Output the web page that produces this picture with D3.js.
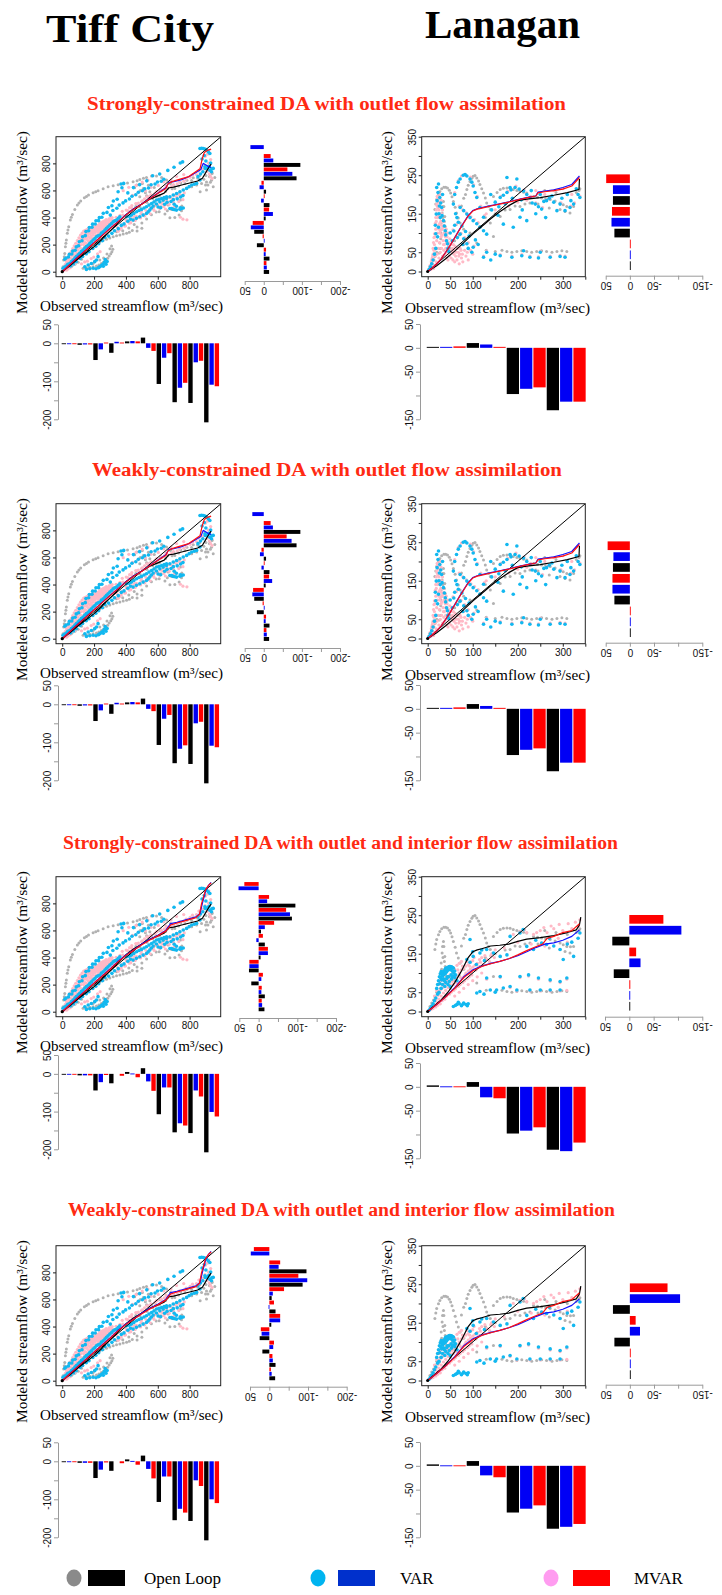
<!DOCTYPE html>
<html><head><meta charset="utf-8">
<script src="https://cdn.jsdelivr.net/npm/d3@7/dist/d3.min.js"></script>
<style>
html,body{margin:0;padding:0;background:#fff;}
svg{display:block;}
</style></head><body>
<script>
// ---------------- text ----------------
const siteNames = ["Tiff City", "Lanagan"];
const panelTitles = [
  "Strongly-constrained DA with outlet flow assimilation",
  "Weakly-constrained DA with outlet flow assimilation",
  "Strongly-constrained DA with outlet and interior flow assimilation",
  "Weakly-constrained DA with outlet and interior flow assimilation"
];
const seriesNames = ["Open Loop", "VAR", "MVAR"];
const xAxisTitle = "Observed streamflow (m\u00B3/sec)";
const yAxisTitle = "Modeled streamflow (m\u00B3/sec)";

// ---------------- axis ticks ----------------
const tiffTicks = [0, 200, 400, 600, 800];
const tiffTickLabels = ["0", "200", "400", "600", "800"];
const lanXTicks = [0, 50, 100, 150, 200, 250, 300, 350];
const lanXTickLabels = ["0", "50", "100", "", "200", "", "300", ""];
const lanYTicks = [0, 50, 100, 150, 200, 250, 300, 350];
const lanYTickLabels = ["0", "50", "", "150", "", "250", "", "350"];
const tiffBarTicks = [50, 0, -50, -100, -150, -200];
const tiffBarTickLabels = ["50", "0", "", "-100", "", "-200"];
const lanBarTicks = [50, 0, -50, -100, -150];
const lanBarTickLabels = ["50", "0", "-50", "", "-150"];

// ---------------- Tiff City scatter: [observed, modeled] ----------------
const tiffOLPts = [
  [5,37],[9,86],[13,110],[16,135],[20,185],[23,210],[26,234],[32,283],[36,308],[41,332],[51,381],[57,402],[64,423],[79,460],[95,492],[105,508],[116,522],[139,546],[152,556],[165,566],[194,583],[210,591],[225,598],[257,613],[288,627],[320,635],[351,642],[383,647],
  [410,655],[445,664],[470,672],[487,681],[510,690],[529,696],[561,706],[592,706],[624,696],[655,677],[680,652],[707,615],[728,573],[743,529],[751,485],[749,450],[734,418],[707,401],[676,399],
  [509,615],[550,590],[592,558],[634,524],[665,492],[687,460],[487,553],[529,517],[571,475],[609,443],[645,426],
  [468,641],[503,652],[541,638],[578,622],[617,597],[561,561],[603,532],[522,583],[455,620],[490,600],[530,560],[580,520],[620,480],[660,450],
  [781,615],[813,627],[844,640],[875,652],[906,662],[937,676],[958,696],[866,590],[906,603],[948,627],[900,641],[925,702],[940,731],[930,660],[915,640],
  [215,209],[236,221],[257,230],[278,239],[299,249],[320,258],[341,265],[362,271],[383,278],[404,283],[341,295],[380,302],[418,322],[452,348],[421,291],[440,305],[470,330],[500,360],[530,390],[560,420],[590,440],[470,300],[500,320],
  [131,25],[152,28],[173,32],[194,36],[215,42],[230,50],[246,61],[260,72],[274,86],[285,100],[295,116],[305,132],[312,148],[318,165],[236,86],[194,61],[260,101],[281,131],[300,170],[310,190],
  [5,12],[15,18],[26,25],[40,30],[60,41],[80,55],[100,70],[121,92],
  [423,442],[451,438],[462,481],[488,478],[503,521],[531,512],[544,551],[568,540],[582,573],[611,562],[621,597],[649,593],[663,616],[690,612],[702,637],[731,633],[744,655],[771,652],[783,676],[812,673],[823,694],[851,690],[863,708],[889,683],[902,710],[928,705],[941,726]
];
const tiffVarPts = [
  [5,25],[15,35],[26,42],[35,55],[47,61],[58,75],[68,86],[80,100],[89,111],[100,125],[110,135],[120,150],[131,160],[142,175],[152,185],[163,195],[173,209],[184,220],[194,234],[205,245],[215,258],[225,265],[236,271],[246,285],[257,295],[268,308],[278,320],[288,332],[299,344],[310,356],[320,369],[330,375],[341,381],[352,395],[362,406],
  [16,92],[24,101],[39,108],[45,129],[60,131],[66,152],[81,158],[88,183],[103,192],[107,221],[124,229],[128,258],[145,266],[149,296],[166,302],[170,326],[187,328],[191,351],[207,352],[212,376],[228,377],[233,399],[249,402],[258,431],[281,438],[290,474],[312,487],[321,522],[345,535],[351,590],[375,620],[369,648],[386,652],
  [142,37],[152,17],[163,49],[173,22],[183,61],[194,25],[204,74],[215,86],[225,111],[236,37],[246,45],[255,55],[265,70],[270,90],[212,22],[228,30],[258,40],[275,55],[282,75],
  [404,406],[420,410],[435,418],[450,430],[467,443],[482,452],[498,460],[514,470],[529,480],[545,492],[561,504],[576,515],[592,529],[608,535],[624,541],[640,548],[655,554],[676,467],[687,467],[697,460],[708,457],[718,455],[739,462],[749,467],[760,470],
  [445,381],[466,394],[487,406],[508,418],[529,430],[540,442],[550,455],[560,470],[571,485],[592,500],[613,517],[634,530],[655,541],[676,554],[697,566],[718,578],[739,590],[760,603],[781,615],[797,628],[813,640],[829,646],[844,652],[865,677],
  [412,582],[447,621],[486,643],[531,671],[568,709],[612,722],[663,748],[702,771],[741,803],[756,811],
  [865,910],[876,912],[886,910],[896,905],[906,898],[917,885],[927,873],[896,775],[910,765],[927,750],[937,738],[948,763],[940,760],
  [52,42],[71,57],[88,73],[112,97],[128,113],[151,132],[168,148],[192,171],[211,188],[229,207],[252,228],[268,252],[291,263],[312,283],[328,302],[352,318],[371,342],[388,353],[412,372],[428,387],
  [302,418],[318,452],[343,468],[358,492],[382,508],[398,523],[422,537],[438,557],[462,568],[478,587],[503,598],[518,612],[542,618],[558,642],[583,648],[598,662],[622,668],[638,683],
  [602,478],[618,472],[643,498],[658,512],[683,518],[698,532],[722,538],[743,552],[758,562],[703,498],[717,483],[742,472],
  [852,702],[868,722],[883,738],[898,762],[921,778],[932,802],[902,818],[878,832],[892,858]
];
const tiffMvarPts = [
  [3,5],[8,20],[10,8],[14,35],[18,15],[20,55],[24,30],[26,75],[30,45],[32,95],[36,20],[38,60],[40,115],[44,80],[46,40],[48,135],[52,100],[55,60],[58,150],[60,120],[64,80],[66,170],[70,140],[72,100],[75,190],[78,160],[80,60],[82,120],[85,210],[88,180],[90,140],[92,90],[95,230],[98,200],[100,160],[102,110],[105,250],[108,220],[110,180],[112,130],[115,270],[118,240],[120,200],[122,150],[125,285],[128,255],[130,220],[132,170],[135,300],[138,270],[140,240],[142,190],[145,305],[148,285],[150,260],[152,210],[155,310],[158,295],[160,275],[162,230],[165,320],[168,300],[170,290],[172,250],[175,325],[178,310],[180,300],[182,265],[185,330],[188,315],[190,300],[192,280],[195,335],[198,320],[200,310],[202,290],[205,250],[210,330],[212,300],[215,270],[220,340],[222,315],[225,290],[230,345],[232,320],[235,300],[240,350],[242,330],[245,310],[250,355],[252,335],[255,320],[260,360],[262,340],[265,325],[270,365],[272,345],[275,330],[280,370],[285,350],[290,340],[295,375],[300,355],[305,345],[310,380],[315,365],[320,355],[210,230],[190,240],[170,200],[150,180],[230,260],[250,280],[270,300],[290,310],
  [12,25],[22,40],[28,12],[34,70],[42,95],[50,30],[56,130],[62,55],[68,155],[74,120],[84,95],[86,160],[94,180],[104,140],[106,200],[114,175],[124,230],[126,110],[134,250],[136,200],[144,215],[146,275],[154,240],[156,290],[164,260],[166,280],[174,280],[176,230],[184,290],[186,250],[194,305],[196,270],[204,320],[206,290],[214,320],[216,345],[224,335],[226,310],[234,330],[236,355],[244,345],[246,365],[254,350],[256,370],[264,355],[266,375],[274,365],[276,385],[284,375],[286,360],[294,390],[296,365],[304,395],[306,370],[314,400],[316,380],
  [338,402],[363,417],[377,446],[402,455],[423,473],[437,488],[462,503],[478,507],[503,523],[517,538],[544,553],[558,562],[583,578],[597,592],[623,598],[641,612],[657,623],[684,628],[698,643],[722,648],[737,663],[763,668],[778,684],[803,697],[818,713],[843,718],[858,743],[882,757],[897,783],[918,802],[932,828],[898,853],[912,868],[921,893],
  [402,382],[453,407],[497,443],[553,468],[598,492],[652,497],[703,478],[742,402],[758,388],[783,383],[648,463],[683,468],
  [418,623],[463,637],[502,662],[538,677],[383,598],[442,563],[477,583],[523,597],[558,623],[603,637],[638,663],[683,677],[718,703],[763,717],
  [932,702],[941,688],[924,722],[909,741],
  [331,302],[346,328],[361,312],[374,348],[392,337],[404,372],[421,358],[436,392],[449,381],[466,408],[481,402],[494,428],[511,421],[526,452],[539,443],[556,472],[571,463],[584,488],[601,487],[616,508],[629,503],[646,532],[661,518],[674,547],[691,538],[706,562],[719,553],[736,572],[751,563],[766,582],
  [352,298],[371,322],[398,338],[431,362],[458,378],[492,397],[518,412],[552,428],[578,452],[612,468],[638,482],[672,498],[698,512],[732,518],[758,532],
  [381,418],[412,452],[438,468],[472,502],[498,518],[532,552],[558,568],[592,592],[618,608],[652,632],
  [121,58],[141,72],[158,78],[182,97],[198,108],[222,132],[238,148]
];

// ---------------- Tiff City curves ----------------
const tiffOLLine = [[0,0],[50,45],[100,95],[150,140],[200,185],[250,240],[300,300],[350,360],[400,420],[450,465],[500,500],[550,535],[600,560],[640,580],[670,620],[700,625],[750,640],[800,655],[850,670],[880,690],[900,730],[920,770],[935,795]];
const tiffVarLineA = [[0,0],[100,110],[200,215],[300,320],[350,370],[400,420],[450,465],[500,500],[550,540],[600,580],[650,620],[670,660],[700,665],[750,680],[800,705],[850,740],[870,755],[885,800],[900,790],[920,775],[935,770]];
const tiffMvarLineA = [[0,0],[100,108],[200,212],[300,318],[350,368],[400,418],[450,462],[500,498],[550,538],[600,578],[650,615],[665,650],[690,665],[730,680],[790,700],[840,740],[865,760],[878,830],[892,880],[915,898],[935,905]];
const tiffVarLineB = [[0,0],[100,108],[200,212],[300,315],[350,372],[400,418],[450,458],[500,500],[550,535],[600,565],[650,600],[680,650],[720,660],[780,680],[840,700],[865,725],[880,800],[893,860],[905,910],[920,935],[935,955]];
const tiffMvarLineB = [[0,0],[100,106],[200,210],[300,312],[350,368],[400,415],[450,455],[500,495],[550,530],[600,560],[650,595],[680,640],[720,655],[780,675],[840,695],[862,720],[875,800],[888,850],[900,900],[920,935],[935,950]];

// ---------------- Lanagan scatter ----------------
const lanOLPts = [
  [5,13],[9,22],[13,30],[16,39],[20,50],[16,161],[18,175],[20,187],[24,199],[27,208],[31,215],[36,219],[40,219],[44,217],[48,211],[51,204],[54,194],[57,182],[61,167],[64,152],[68,139],[72,126],
  [26,48],[27,74],[29,100],[30,126],[32,152],[33,169],[35,182],[36,169],[38,143],[39,117],[41,91],[28,60],[34,140],[31,110],[29,85],[37,130],[40,104],
  [84,200],[87,213],[90,224],[94,234],[98,242],[101,247],[105,249],[109,243],[113,235],[116,226],[120,215],[124,204],[128,191],[131,178],[135,169],[139,161],[80,190],[75,170],
  [146,195],[154,205],[161,213],[168,216],[176,217],[183,216],[190,213],[198,210],[205,208],[213,206],[220,204],
  [235,195],[244,193],[253,191],[262,189],[272,187],[283,183],[294,178],[301,173],[309,169],[317,168],[324,169],[294,161],[305,156],[316,152],[260,210],[285,205],[310,200],[330,205],[245,175],[270,165],[336,210],[338,215],
  [176,52],[187,50],[198,52],[209,54],[220,52],[231,50],[242,52],[253,54],[264,52],[276,50],[287,52],[298,54],[309,52],[130,55],[150,52],[165,55],
  [94,100],[116,117],[139,126],[161,143],[183,161],[205,169],[227,178],[109,74],[146,91],[60,80],[70,95],[80,110],[50,60],[128,140],[150,150],[172,160],[194,170],[216,175]
];
const lanVarPtsA = [
  [3,5],[6,12],[9,20],[12,30],[15,45],[18,60],[20,218],[21,184],[19,149],[24,227],[24,115],[27,192],[31,166],[35,132],[39,106],[42,80],[45,60],[22,90],[28,140],[33,200],[26,170],
  [17,120],[18,98],[23,205],[25,150],[29,178],[32,145],[37,118],[40,95],[44,72],[47,52],
  [57,175],[64,218],[72,240],[79,250],[87,248],[94,240],[101,222],[109,192],[116,166],[124,141],[60,200],[68,232],[83,252],[98,232],[105,205],
  [72,166],[80,158],[87,149],[94,140],[101,132],[109,124],[116,115],[124,106],[131,97],[72,97],[80,85],[87,72],[98,50],[101,63],[60,120],[65,140],[50,100],[55,80],
  [62,150],[68,128],[76,118],[84,104],[92,92],[106,82],[112,70],[58,105],[66,88],[78,70],[90,60],
  [161,192],[168,198],[176,205],[185,212],[194,218],[203,214],[213,209],[220,200],[227,192],[239,175],[246,168],[253,162],[264,184],[280,180],[294,175],[305,158],[316,166],[324,175],[338,192],[190,115],[205,141],[220,132],[168,123],[287,158],[176,244],[198,240],[183,218],[150,180],[140,200],[230,210],[250,200],[270,190],[310,200],[330,215],
  [158,168],[172,176],[188,190],[208,186],[232,178],[258,182],[276,196],[298,190],[318,184],[334,200],[142,160],[156,146],[210,160],[240,150],[262,140],
  [124,37],[131,50],[161,41],[187,37],[209,41],[213,54],[227,37],[246,35],[250,50],[272,37],[294,39],[305,37],[150,45],[140,30]
];
const lanMvarPtsA = [
  [2,3],[4,8],[5,15],[7,5],[8,25],[9,12],[10,35],[11,20],[12,45],[13,8],[14,55],[14,30],[15,70],[16,15],[16,90],[17,40],[18,110],[18,60],[19,130],[19,25],[20,150],[20,80],[21,170],[21,45],[22,190],[22,100],[23,205],[23,60],[24,120],[24,180],[25,35],[25,160],[26,140],[26,75],[27,200],[27,100],[28,50],[28,170],[29,130],[30,90],[30,185],[31,60],[31,150],[32,110],[33,40],[33,160],[34,80],[35,130],[36,55],[36,100],[37,70],[38,45],[39,90],[40,60],[42,35],[42,75],[44,50],[45,30],[46,65],[48,40],[50,55],[52,35],[54,50],[56,30],[58,45],[60,25],[62,40],[65,30],[68,50],[70,20],[72,60],[75,35],[78,25],[80,70],[85,40],[90,30],[95,55],[100,45],
  [15,98],[17,125],[18,140],[19,160],[20,175],[21,195],[22,140],[23,165],[24,145],[25,110],[26,190],[27,125],[28,105],[29,150],[30,120],[31,95],[32,130],[34,115],[35,70],[36,120],[38,95],[40,80],[41,110],[43,90],[45,100],[47,75],[49,85],[51,70],[53,80],[55,60],[57,70],[59,55],[61,65],[63,50],[66,60],[69,40],[71,45],[74,55],[77,45],[82,55],[88,50],[12,60],[11,40],[9,30],[13,75],[14,88],
  [60,205],[68,236],[75,248],[85,250],[95,245],[102,225],[110,195],[118,170],[126,145],[162,195],[178,208],[196,222],[214,212],[229,195],[240,178],[255,166],[266,188],[296,178],[318,170],[326,178],[338,196],[124,40],[131,53],[161,44],[187,40],[209,44],[227,40],[246,38],[250,53],[272,40],[294,42],[305,40],[200,180],[220,185],[180,170],[150,160],[130,150],[280,210],[300,215],[320,200],[240,210],[260,200],
  [70,170],[78,160],[86,152],[96,142],[104,135],[112,127],[74,99],[82,88],[90,75],[103,66],[64,122],[56,108]
];
const lanVarPtsB = [
  [3,3],[6,8],[9,14],[12,20],[15,28],[18,35],[20,60],[22,70],[24,80],[26,90],[28,98],[30,104],[32,95],[34,100],[35,104],[38,108],[40,112],[42,113],[45,115],[48,117],[50,117],[53,116],[55,114],[57,113],[60,105],[62,95],[35,85],[40,75],[45,70],[50,65],[25,50],[30,60],[22,45],[44,90],[55,90],[65,80],
  [27,72],[29,88],[31,82],[33,92],[36,96],[39,98],[41,102],[43,105],[46,108],[49,110],[51,109],[54,106],[56,104],[58,100],[37,80],[42,85],[47,90],[52,95],[57,92],[60,88],[33,70],[38,65],[48,78],[53,84],
  [57,13],[65,18],[70,20],[75,15],[80,22],[85,18],[90,20],[94,187],[62,16],[68,24],[78,19],[88,15],
  [87,135],[101,143],[116,152],[131,161],[146,152],[161,143],[176,147],[100,155],[120,160],[94,128],[108,122],[126,132],
  [183,195],[205,204],[212,213],[220,169],[235,161],[253,178],[264,174],[294,161],[301,135],[324,143],[338,204],[280,170],[310,175],[240,185],[270,190],[320,180],[334,190],
  [131,87],[161,91],[183,65],[205,91],[224,95],[246,87],[272,82],[294,78],[309,87],[139,56],[153,56],[168,61],[198,56],[227,56],[250,56],[272,56],[294,56],[109,48],[116,52],[125,45],[150,50]
];
const lanMvarPtsB = [
  [2,2],[5,5],[8,6],[10,12],[12,8],[15,18],[18,12],[20,25],[22,16],[25,32],[28,20],[30,40],[32,28],[35,48],[38,32],[40,55],[42,40],[45,62],[48,45],[50,70],[52,50],[55,78],[58,55],[60,85],[62,60],[65,92],[68,65],[70,100],[72,70],[75,108],[78,75],[80,112],[82,80],[85,118],[88,85],[90,122],[92,90],[95,128],[98,95],[100,132],[15,40],[20,55],[25,70],[30,80],[35,95],[40,100],[45,85],[50,95],[55,100],[60,110],[65,120],[70,125],[75,130],[80,90],[85,100],[90,105],[95,110],[100,115],[105,120],[110,125],[115,135],[120,140],[60,40],[70,50],[80,60],[90,70],[100,80],[110,90],[120,100],
  [12,18],[17,30],[23,42],[27,55],[33,62],[37,72],[43,78],[47,92],[53,88],[57,70],[63,75],[67,108],[73,88],[77,118],[83,95],[87,130],[93,118],[97,102],[103,140],[107,108],[113,115],[117,128],[123,122],[127,145],[132,135],[137,130],[142,150],[148,140],
  [131,84],[161,88],[183,62],[205,88],[224,92],[246,84],[272,79],[294,75],[309,84],[198,53],[227,53],[250,53],[272,53],[294,53],[309,55],[190,200],[205,208],[220,205],[235,200],[250,210],[265,205],[280,215],[300,210],[320,215],[335,220],[200,180],[230,175],[260,170],[290,190],[310,180],[150,160],[170,165],[140,145],
  [215,212],[242,205],[258,218],[274,222],[292,226],[312,228],[328,232],[338,238]
];

// ---------------- Lanagan curves ----------------
const lanOLLineA = [[0,0],[20,15],[40,33],[60,53],[80,75],[100,97],[120,117],[140,137],[160,155],[180,171],[200,184],[220,188],[250,192],[280,198],[310,205],[336,213],[337,240]];
const lanVarLineA = [[0,0],[10,9],[20,20],[30,33],[40,50],[50,68],[60,88],[70,108],[80,127],[90,145],[100,158],[110,163],[125,167],[140,171],[160,176],[180,181],[200,187],[220,192],[240,196],[245,206],[260,209],[280,212],[300,218],[320,226],[337,248]];
const lanMvarLineA = [[0,0],[10,9],[20,20],[30,33],[40,50],[50,68],[60,87],[70,107],[80,126],[90,144],[100,157],[110,162],[125,166],[140,170],[160,175],[180,180],[200,186],[220,191],[240,196],[245,204],[260,207],[280,210],[300,214],[320,222],[337,244]];
const lanOLLineB = [[0,0],[15,15],[30,30],[45,50],[60,75],[75,105],[90,140],[100,155],[110,160],[120,163],[140,170],[160,172],[180,175],[200,182],[220,188],[250,192],[280,197],[310,205],[330,212],[337,225],[340,245]];
const lanVarLineB = [[0,0],[20,18],[40,38],[60,62],[80,90],[100,108],[120,118],[140,125],[160,130],[180,137],[200,145],[220,155],[240,166],[260,175],[280,178],[300,185],[320,195],[337,212]];
const lanMvarLineB = [[0,0],[20,18],[40,38],[60,60],[80,88],[100,106],[120,117],[140,124],[160,130],[180,137],[200,147],[220,158],[240,168],[255,175],[265,190],[280,195],[300,205],[320,210],[337,228]];

// ---------------- bias bars (order: Open Loop, VAR, MVAR repeated) ----------------
const tiffSideP1 = [-14,-8,-7,-15,-5,-6,18,-2,3,25,34,29,-5,-24,-14,-15,7,-2,-6,11,6,-86,-75,-62,-96,-25,-18,0,35,0];
const tiffSideP2 = [-14,-8,-7,-15,-5,-6,18,-2,3,25,30,28,-5,-22,-14,-15,6,-2,-6,10,6,-86,-73,-60,-96,-24,-18,0,30,0];
const tiffSideP3 = [-15,-9,-8,-16,-7,-8,19,-7,-11,25,24,24,-5,-24,-24,-16,6,-11,-6,-16,-40,-86,-81,-71,-95,-22,-27,0,52,37];
const tiffSideP4 = [-15,-6,-4,-16,-9,-8,18,-10,-12,25,20,22,-5,-28,-28,-16,2,-12,-6,-9,-38,-86,-98,-75,-96,-24,-28,0,48,40];
const tiffBottomP1 = [-2,-2,-2,-4,-3,-3,-44,-16,2,-25,4,2,5,6,5,15,-12,-20,-107,-38,-26,-155,-117,-104,-157,-50,-46,-208,-109,-113];
const tiffBottomP2 = [-2,-2,-2,-4,-3,-3,-44,-16,2,-25,4,2,5,6,5,15,-12,-18,-107,-38,-28,-155,-117,-108,-157,-50,-46,-208,-109,-113];
const tiffBottomP3 = [-2,-2,-2,-4,-4,-4,-44,-22,-3,-25,0,-5,5,1,-9,15,-20,-45,-107,-36,-36,-155,-131,-137,-157,-44,-60,-208,-101,-113];
const tiffBottomP4 = [-2,-2,-2,-4,-4,-4,-44,-22,-3,-25,0,-5,5,1,-9,15,-20,-45,-107,-40,-40,-155,-125,-135,-157,-50,-65,-208,-100,-110];
const lanSideP1 = [-1,-1,-1,32,38,37,35,35,49];
const lanSideP2 = [-1,-1,-1,32,36,36,35,34,46];
const lanSideP3 = [-1,-1,-2,32,-23,-14,35,-107,-70];
const lanSideP4 = [-1,-1,-1,32,-21,-12,35,-104,-78];
const lanBottomP1 = [2,2,3,10,7,2,-97,-86,-83,-131,-113,-113];
const lanBottomP2 = [2,2,3,10,6,2,-97,-86,-83,-131,-113,-113];
const lanBottomP3 = [3,1,1,10,-22,-24,-98,-92,-85,-132,-135,-117];
const lanBottomP4 = [3,1,1,10,-20,-24,-98,-90,-83,-132,-128,-122];

// ---------------- styling ----------------
const serif = "'Liberation Serif','Times New Roman',serif";
const sans = "'Liberation Sans',Arial,Helvetica,sans-serif";
const titleRed = "#ff2a12";
const barColors = ["#000000", "#0000f5", "#ff0000"];
const lineColors = ["#000000", "#1010ff", "#ff1010"];
const ptColors = ["#b2b2b2", "#12b8f0", "#ffb9c6"];
const legendDot = ["#8a8a8a", "#00b4f0", "#ff9cf0"];
const legendBar = ["#000000", "#0030cc", "#ff0000"];
const axisGray = "#9a9a9a";

// ---------------- layout of the four panels ----------------
const panels = [
  { title: panelTitles[0], tx: [87, 566], ty: 110, dy: 0,
    tiffSide: {axisY: 281, v50: 244.7, vMin: 340, top: 140.4, bottom: 274.2},
    lanSide: {axisY: 275.7, v50: 605.7, vMin: 702.3, top: 173.3, bottom: 271.1},
    tiffBottom: {axisX: 58, v50: 324.3, vMin: 419.3, left: 61.2, right: 219.5},
    lanBottom: {axisX: 420, v50: 324, vMin: 419.3, left: 426.2, right: 586.2},
    set: "A", bars: [tiffSideP1, tiffBottomP1, lanSideP1, lanBottomP1] },
  { title: panelTitles[1], tx: [92, 562], ty: 476, dy: 367,
    tiffSide: {axisY: 648, v50: 244.7, vMin: 340, top: 507.4, bottom: 641.2},
    lanSide: {axisY: 642.7, v50: 605.7, vMin: 702.3, top: 540.3, bottom: 638.1},
    tiffBottom: {axisX: 58, v50: 685.3, vMin: 780.3, left: 61.2, right: 219.5},
    lanBottom: {axisX: 420, v50: 685, vMin: 780.3, left: 426.2, right: 586.2},
    set: "A", bars: [tiffSideP2, tiffBottomP2, lanSideP2, lanBottomP2] },
  { title: panelTitles[2], tx: [63, 618], ty: 849, dy: 740,
    tiffSide: {axisY: 1018, v50: 239.3, vMin: 336, top: 881.8, bottom: 1011.5},
    lanSide: {axisY: 1016.7, v50: 605, vMin: 702.3, top: 913.9, bottom: 1011.7},
    tiffBottom: {axisX: 58, v50: 1055, vMin: 1149.3, left: 61.2, right: 219.5},
    lanBottom: {axisX: 420, v50: 1063, vMin: 1158.3, left: 426.2, right: 586.2},
    set: "B", bars: [tiffSideP3, tiffBottomP3, lanSideP3, lanBottomP3] },
  { title: panelTitles[3], tx: [68, 615], ty: 1216, dy: 1109,
    tiffSide: {axisY: 1386.7, v50: 250, vMin: 346.7, top: 1246.8, bottom: 1380.5},
    lanSide: {axisY: 1384.7, v50: 605.7, vMin: 702.3, top: 1282.3, bottom: 1380.1},
    tiffBottom: {axisX: 58, v50: 1442.3, vMin: 1537.3, left: 61.2, right: 219.5},
    lanBottom: {axisX: 420, v50: 1442, vMin: 1537.3, left: 426.2, right: 586.2},
    set: "B", bars: [tiffSideP4, tiffBottomP4, lanSideP4, lanBottomP4] }
];

const W = 722, H = 1595;
const svg = d3.select("body").append("svg").attr("width", W).attr("height", H)
  .attr("viewBox", `0 0 ${W} ${H}`);
svg.append("rect").attr("width", W).attr("height", H).attr("fill", "#fff");

// site headers
svg.append("text").attr("x", 46).attr("y", 42).text(siteNames[0])
  .attr("textLength", 168).attr("lengthAdjust", "spacingAndGlyphs")
  .attr("font-family", serif).attr("font-weight", "bold").attr("font-size", 41).attr("fill", "#000");
svg.append("text").attr("x", 425).attr("y", 38).text(siteNames[1])
  .attr("font-family", serif).attr("font-weight", "bold").attr("font-size", 41).attr("fill", "#000");

let clipId = 0;

function styleTickText(sel) {
  sel.attr("font-family", sans).attr("font-size", 10).attr("fill", "#111");
}

// scatter of modeled vs observed flow with smoothed curves and 1:1 line
function scatter(g, cfg) {
  const x = d3.scaleLinear().domain(cfg.xDom).range([cfg.x0, cfg.x1]);
  const y = d3.scaleLinear().domain(cfg.yDom).range([cfg.y1, cfg.y0]);
  const id = "clip" + (clipId++);
  g.append("clipPath").attr("id", id).append("rect")
    .attr("x", cfg.x0).attr("y", cfg.y0).attr("width", cfg.x1 - cfg.x0).attr("height", cfg.y1 - cfg.y0);
  const inner = g.append("g").attr("clip-path", `url(#${id})`);
  const order = [0, 2, 1];
  const radii = [1.5, 1.8, 1.6];
  order.forEach(k => {
    inner.append("g").selectAll("circle").data(cfg.pts[k]).join("circle")
      .attr("cx", d => x(d[0])).attr("cy", d => y(d[1])).attr("r", radii[k])
      .attr("fill", ptColors[k]);
  });
  const line = d3.line().x(d => x(d[0])).y(d => y(d[1]));
  const hi = Math.min(cfg.xDom[1], cfg.yDom[1]);
  inner.append("path").attr("d", line([[0, 0], [hi, hi]])).attr("stroke", "#000")
    .attr("stroke-width", 1).attr("fill", "none");
  cfg.lines.forEach((ln, k) => {
    inner.append("path").attr("d", line(ln)).attr("stroke", lineColors[k])
      .attr("stroke-width", 1.2).attr("fill", "none").attr("stroke-linejoin", "round");
  });
  inner.append("circle").attr("cx", x(0)).attr("cy", y(0)).attr("r", 1.6).attr("fill", "#000");
  g.append("rect").attr("x", cfg.x0).attr("y", cfg.y0).attr("width", cfg.x1 - cfg.x0)
    .attr("height", cfg.y1 - cfg.y0).attr("fill", "none").attr("stroke", "#222").attr("stroke-width", 1);

  const ax = g.append("g").attr("transform", `translate(0,${cfg.y1})`)
    .call(d3.axisBottom(x).tickValues(cfg.xTicks).tickFormat((d, i) => cfg.xLabels[i]).tickSize(3).tickSizeOuter(0));
  ax.select(".domain").remove();
  ax.selectAll(".tick line").attr("stroke", "#222");
  styleTickText(ax.selectAll(".tick text").attr("y", 5));

  const ay = g.append("g").attr("transform", `translate(${cfg.x0},0)`)
    .call(d3.axisLeft(y).tickValues(cfg.yTicks).tickFormat((d, i) => cfg.yLabels[i]).tickSize(3).tickSizeOuter(0));
  ay.select(".domain").remove();
  ay.selectAll(".tick line").attr("stroke", "#222");
  styleTickText(ay.selectAll(".tick text").attr("x", null).attr("dy", null)
    .attr("text-anchor", "middle").attr("transform", "translate(-6,0) rotate(-90)"));

  g.append("text").text(xAxisTitle).attr("x", cfg.xt[0]).attr("y", cfg.xt[2])
    .attr("textLength", cfg.xt[1] - cfg.xt[0]).attr("lengthAdjust", "spacingAndGlyphs")
    .attr("font-family", serif).attr("font-size", 15).attr("fill", "#000");
  g.append("text").text(yAxisTitle)
    .attr("transform", `translate(${cfg.yt[0]},${cfg.yt[2]}) rotate(-90)`)
    .attr("textLength", cfg.yt[2] - cfg.yt[1]).attr("lengthAdjust", "spacingAndGlyphs")
    .attr("font-family", serif).attr("font-size", 15).attr("fill", "#000");
}

// horizontal bias bars, drawn as a barplot turned on its side
function sideBars(g, vals, geo, vMinVal, ticks, labels, pad) {
  const v = d3.scaleLinear().domain([50, vMinVal]).range([geo.v50, geo.vMin]);
  const b = d3.scaleBand().domain(d3.range(vals.length)).range([geo.bottom, geo.top])
    .paddingInner(pad).paddingOuter(pad / 2);
  g.append("g").selectAll("rect").data(vals).join("rect")
    .attr("x", d => Math.min(v(0), v(d)))
    .attr("width", d => d === 0 ? 0 : Math.max(0.9, Math.abs(v(d) - v(0))))
    .attr("y", (d, i) => b(i)).attr("height", b.bandwidth())
    .attr("fill", (d, i) => barColors[i % 3]);
  const a = g.append("g").attr("transform", `translate(0,${geo.axisY})`)
    .call(d3.axisBottom(v).tickValues(ticks).tickFormat((d, i) => labels[i]).tickSize(4).tickSizeOuter(0));
  a.select(".domain").attr("stroke", axisGray);
  a.selectAll(".tick line").attr("stroke", axisGray);
  styleTickText(a.selectAll(".tick text").attr("y", null).attr("dy", null)
    .attr("text-anchor", "middle").attr("transform", "translate(0,6) rotate(180)"));
}

// vertical bias bars below each scatter
function bottomBars(g, vals, geo, vMinVal, ticks, labels, pad) {
  const v = d3.scaleLinear().domain([50, vMinVal]).range([geo.v50, geo.vMin]);
  const b = d3.scaleBand().domain(d3.range(vals.length)).range([geo.left, geo.right])
    .paddingInner(pad).paddingOuter(pad / 2);
  g.append("g").selectAll("rect").data(vals).join("rect")
    .attr("x", (d, i) => b(i)).attr("width", b.bandwidth())
    .attr("y", d => Math.min(v(0), v(d)))
    .attr("height", d => d === 0 ? 0 : Math.max(0.9, Math.abs(v(d) - v(0))))
    .attr("fill", (d, i) => barColors[i % 3]);
  const a = g.append("g").attr("transform", `translate(${geo.axisX},0)`)
    .call(d3.axisLeft(v).tickValues(ticks).tickFormat((d, i) => labels[i]).tickSize(4).tickSizeOuter(0));
  a.select(".domain").attr("stroke", axisGray);
  a.selectAll(".tick line").attr("stroke", axisGray);
  styleTickText(a.selectAll(".tick text").attr("x", null).attr("dy", null)
    .attr("text-anchor", "middle").attr("transform", "translate(-7,0) rotate(-90)"));
}

panels.forEach(p => {
  const g = svg.append("g");
  g.append("text").text(p.title).attr("x", p.tx[0]).attr("y", p.ty)
    .attr("textLength", p.tx[1] - p.tx[0]).attr("lengthAdjust", "spacingAndGlyphs")
    .attr("font-family", serif).attr("font-weight", "bold").attr("font-size", 18).attr("fill", titleRed);
  const A = p.set === "A";
  scatter(g, {
    x0: 56, x1: 220.7, y0: 136.7 + p.dy, y1: 276.7 + p.dy,
    xDom: [-39, 995], yDom: [-37, 997],
    xTicks: tiffTicks, xLabels: tiffTickLabels, yTicks: tiffTicks, yLabels: tiffTickLabels,
    pts: [tiffOLPts, tiffVarPts, tiffMvarPts],
    lines: [tiffOLLine, A ? tiffVarLineA : tiffVarLineB, A ? tiffMvarLineA : tiffMvarLineB],
    xt: [40, 223, 311 + p.dy], yt: [27, 131 + p.dy, 314 + p.dy]
  });
  scatter(g, {
    x0: 421.7, x1: 585.3, y0: 136.7 + p.dy, y1: 276.7 + p.dy,
    xDom: [-13.3, 350], yDom: [-13.5, 350],
    xTicks: lanXTicks, xLabels: lanXTickLabels, yTicks: lanYTicks, yLabels: lanYTickLabels,
    pts: [lanOLPts, A ? lanVarPtsA : lanVarPtsB, A ? lanMvarPtsA : lanMvarPtsB],
    lines: [A ? lanOLLineA : lanOLLineB, A ? lanVarLineA : lanVarLineB, A ? lanMvarLineA : lanMvarLineB],
    xt: [405, 590, 313 + p.dy], yt: [392, 131 + p.dy, 314 + p.dy]
  });
  sideBars(g, p.bars[0], p.tiffSide, -200, tiffBarTicks, tiffBarTickLabels, 0.12);
  bottomBars(g, p.bars[1], p.tiffBottom, -200, tiffBarTicks, tiffBarTickLabels, 0.17);
  sideBars(g, p.bars[2], p.lanSide, -150, lanBarTicks, lanBarTickLabels, 0.2);
  bottomBars(g, p.bars[3], p.lanBottom, -150, lanBarTicks, lanBarTickLabels, 0.08);
});

// legend
const legend = svg.append("g");
const legendX = [[74, 88, 144], [318, 338, 400], [551, 573, 634]];
seriesNames.forEach((name, k) => {
  const [cx, rx, tx] = legendX[k];
  legend.append("ellipse").attr("cx", cx).attr("cy", 1578).attr("rx", 7.5).attr("ry", 8.5).attr("fill", legendDot[k]);
  legend.append("rect").attr("x", rx).attr("y", 1570).attr("width", 37).attr("height", 16).attr("fill", legendBar[k]);
  legend.append("text").text(name).attr("x", tx).attr("y", 1584)
    .attr("font-family", serif).attr("font-size", 17).attr("fill", "#000");
});
</script>
</body></html>
